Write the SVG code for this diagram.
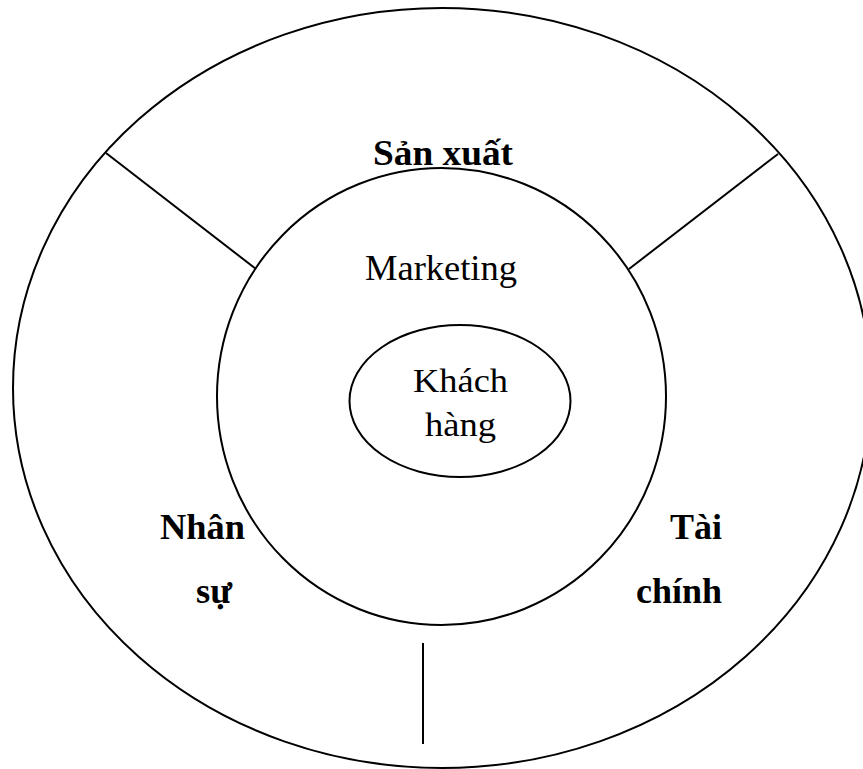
<svg xmlns="http://www.w3.org/2000/svg" width="863" height="769" viewBox="0 0 863 769">
<style>
.sh{fill:none;stroke:#000;stroke-width:2}
.ln{stroke:#000;stroke-width:2}
.t{font-family:"Liberation Serif","Times New Roman",serif;fill:#000}
.b{font-weight:bold}
</style>
<rect width="863" height="769" fill="#fff"/>
<g id="outer">
<ellipse class="sh" cx="442" cy="388" rx="429" ry="380"/>
<text class="t b" x="373" y="165" font-size="35" textLength="140" lengthAdjust="spacingAndGlyphs">Sản xuất</text>
<text class="t b" x="160" y="539" font-size="35" textLength="85" lengthAdjust="spacingAndGlyphs">Nhân</text>
<text class="t b" x="196" y="603" font-size="35" textLength="36" lengthAdjust="spacingAndGlyphs">sự</text>
<text class="t b" x="670" y="539" font-size="35" textLength="52" lengthAdjust="spacingAndGlyphs">Tài</text>
<text class="t b" x="636" y="603" font-size="35" textLength="86" lengthAdjust="spacingAndGlyphs">chính</text>
</g>
<g id="connectors">
<line class="ln" x1="106" y1="153" x2="256" y2="269"/>
<line class="ln" x1="778" y1="154" x2="629" y2="269"/>
<line class="ln" x1="423" y1="643" x2="423" y2="744"/>
</g>
<g id="marketing">
<ellipse class="sh" cx="441.5" cy="396.5" rx="224.5" ry="228.5" fill="#fff"/>
<text class="t" x="365" y="280" font-size="35" textLength="152" lengthAdjust="spacingAndGlyphs">Marketing</text>
</g>
<g id="khachhang">
<ellipse class="sh" cx="460" cy="401" rx="110.5" ry="76"/>
<text class="t" x="413" y="392" font-size="33" textLength="95" lengthAdjust="spacingAndGlyphs">Khách</text>
<text class="t" x="425" y="436" font-size="33" textLength="71" lengthAdjust="spacingAndGlyphs">hàng</text>
</g>
</svg>
